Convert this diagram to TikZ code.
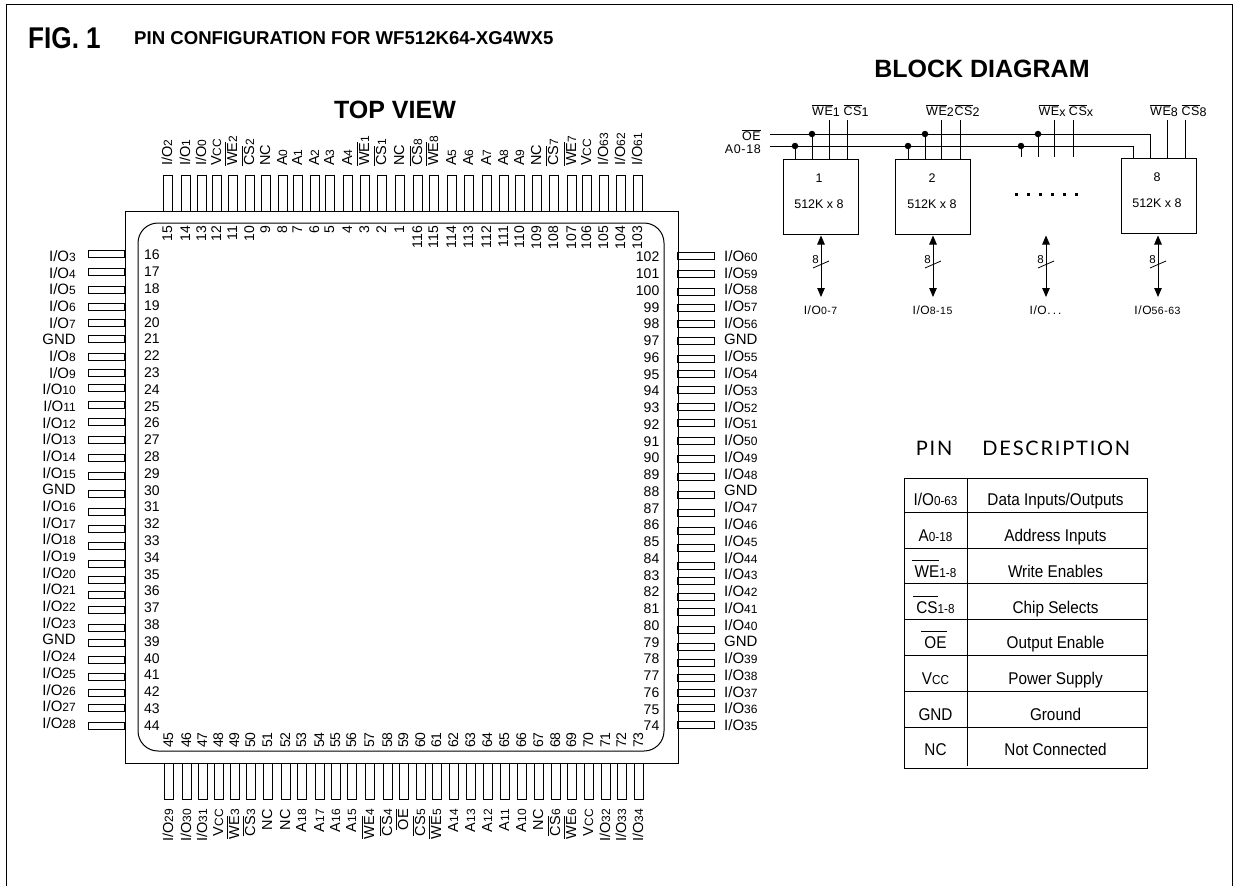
\documentclass[tikz,border=0pt]{standalone}
\usepackage{fontspec}
\setmainfont{Liberation Sans}
\newfontfamily\tabface[FakeStretch=0.9]{Liberation Sans}
\newfontfamily\wideface[LetterSpace=5]{Liberation Sans}
\newfontfamily\headface[LetterSpace=9]{Lato}
\newfontfamily\figface[FakeStretch=0.87]{Liberation Sans}
\usetikzlibrary{arrows.meta}

\newcommand{\pinfont}{\fontsize{15}{15}\selectfont}
\newcommand{\numfont}{\fontsize{14}{14}\selectfont}
\newcommand{\vfont}{\fontsize{14.5}{15}\selectfont}
\newcommand{\blkfont}{\wideface\fontsize{12.5}{13}\selectfont}
\newcommand{\tabfont}{\tabface\fontsize{17}{17}\selectfont}
\newcommand{\sdig}[1]{{\fontsize{12}{12}\selectfont #1}}
\newcommand{\tdig}[1]{{\fontsize{13}{13}\selectfont #1}}
\newcommand{\IO}[1]{I/O\sdig{#1}}
\newcommand{\busIO}[1]{I/O{\fontsize{10.5}{11}\selectfont #1}}
\newcommand{\busdots}{I/O.\,.\,.}
\newcommand{\dataIO}{Data Inputs/Outputs}
\newcommand{\ovl}[1]{$\overline{\hbox{#1}}$}
\newcommand{\tabovl}[1]{\kern-3pt$\overline{\hbox{\vrule height 15.5pt width 0pt \kern3pt #1}}$}
\newcommand{\blksub}[1]{\raisebox{-1.5pt}{#1}}

\tikzset{
    every node/.style={font=\pinfont, inner sep=0pt},
    wire/.style={line width=1pt},
    hpin/.style={draw, line width=1pt, minimum width=36.5pt, minimum height=7pt},
    vpin/.style={draw, line width=1pt, minimum width=8.5pt, minimum height=36pt},
    memblock/.style={draw, line width=1pt, minimum width=75pt, minimum height=75pt},
    joint/.style={circle, fill=black, minimum size=6.5pt},
    blk/.style={font=\blkfont, anchor=base},
    pinnum/.style={font=\numfont},
    title/.style={font=\bfseries\fontsize{25}{25}\selectfont},
    tabtext/.style={font=\tabfont},
    busarrow/.style={line width=1pt, <->, >={Triangle[length=9pt,width=7.5pt]}}
}

\begin{document}
\begin{tikzpicture}[x=1pt, y=-1pt]
    \useasboundingbox (0,0) rectangle (1238,886);

    % frame
    \coordinate (FA) at (6,886);
    \coordinate (FB) at (6,4.5);
    \coordinate (FC) at (1232,4.5);
    \coordinate (FD) at (1232,886);
    \draw[line width=1pt] (FA) -- (FB) -- (FC) -- (FD);

    % titles
    \node (FIG) at (64.5,38) {\figface\bfseries\fontsize{30}{30}\selectfont FIG. 1};
    \node (CFG) at (134,38.5) [anchor=west, font=\bfseries\fontsize{18.6}{19}\selectfont] {PIN CONFIGURATION FOR WF512K64-XG4WX5};
    \node (TOP) at (395,110) [title] {TOP VIEW};
    \node (BLK) at (982,69) [title] {BLOCK DIAGRAM};

    % chip
    \node (CHIP) at (401.5,487) [draw, line width=1pt, minimum width=553pt, minimum height=552pt] {};
    \node (CORE) at (401,487) [draw, line width=1pt, rounded corners=20pt, minimum width=526pt, minimum height=528pt] {};

    %-----

    \foreach \num/\xx/\lab in {15/168/\IO{2}, 14/186/\IO{1}, 13/202/\IO{0}, 12/217/V\sdig{CC},
        11/233/\ovl{WE}\sdig{2}, 10/250/\ovl{CS}\sdig{2}, 9/266/NC, 8/283/A\sdig{0}, 7/298/A\sdig{1},
        6/315/A\sdig{2}, 5/330/A\sdig{3}, 4/348/A\sdig{4}, 3/365/\ovl{WE}\sdig{1}, 2/382/\ovl{CS}\sdig{1},
        1/400/NC, 116/418/\ovl{CS}\sdig{8}, 115/434/\ovl{WE}\sdig{8}, 114/452/A\sdig{5}, 113/469/A\sdig{6},
        112/487/A\sdig{7}, 111/504/A\sdig{8}, 110/520/A\sdig{9}, 109/537/NC, 108/554/\ovl{CS}\sdig{7},
        107/572/\ovl{WE}\sdig{7}, 106/587/V\sdig{CC}, 105/604/\IO{63}, 104/621/\IO{62}, 103/638/\IO{61}} {
        \node (P\num) at (\xx,193) [vpin] {};
        \node (N\num) at (\xx+4,226) [pinnum, rotate=90, anchor=base east] {\num};
        \node (T\num) at (\xx+4,166) [font=\vfont, rotate=90, anchor=base west] {\lab};
    }

    %-----

    \foreach \num/\xx/\lab in {45/169/\IO{29}, 46/187/\IO{30}, 47/203/\IO{31}, 48/219/V\sdig{CC},
        49/235/\ovl{WE}\sdig{3}, 50/251/\ovl{CS}\sdig{3}, 51/268/NC, 52/286/NC, 53/302/A\sdig{18},
        54/320/A\sdig{17}, 55/336/A\sdig{16}, 56/352/A\sdig{15}, 57/370/\ovl{WE}\sdig{4}, 58/388/\ovl{CS}\sdig{4},
        59/404/\ovl{OE}, 60/421/\ovl{CS}\sdig{5}, 61/437/\ovl{WE}\sdig{5}, 62/454/A\sdig{14}, 63/471/A\sdig{13},
        64/488/A\sdig{12}, 65/505/A\sdig{11}, 66/522/A\sdig{10}, 67/539/NC, 68/556/\ovl{CS}\sdig{6},
        69/572/\ovl{WE}\sdig{6}, 70/589/V\sdig{CC}, 71/606/\IO{32}, 72/622/\IO{33}, 73/639/\IO{34}} {
        \node (P\num) at (\xx,781) [vpin] {};
        \node (N\num) at (\xx+4,748) [pinnum, rotate=90, anchor=base west] {\num};
        \node (T\num) at (\xx+4,809) [font=\vfont, rotate=90, anchor=base east] {\lab};
    }

    %-----

    \foreach \num/\yy/\lab [count=\i from 0] in {16/253.7/\IO{3}, 17/272/\IO{4}, 18/290/\IO{5}, 19/307.3/\IO{6},
        20/322.7/\IO{7}, 21/339/GND, 22/357/\IO{8}, 23/373/\IO{9}, 24/388.3/\IO{10}, 25/405.3/\IO{11},
        26/421.7/\IO{12}, 27/439.7/\IO{13}, 28/457.7/\IO{14}, 29/475.7/\IO{15}, 30/493.7/GND, 31/511.7/\IO{16},
        32/529.3/\IO{17}, 33/546.3/\IO{18}, 34/564/\IO{19}, 35/579.7/\IO{20}, 36/595/\IO{21}, 37/610.3/\IO{22},
        38/628.3/\IO{23}, 39/643/GND, 40/659.7/\IO{24}, 41/677.3/\IO{25}, 42/692.7/\IO{26}, 43/708/\IO{27},
        44/726/\IO{28}} {
        \node (P\num) at (106.5,\yy) [hpin] {};
        \node (N\num) at (144,255+\i*16.8) [pinnum, anchor=west] {\num};
        \node (T\num) at (76,256+\i*16.68) [anchor=east] {\lab};
    }

    %-----

    \foreach \num/\yy/\lab [count=\i from 0] in {102/256/\IO{60}, 101/273.7/\IO{59}, 100/291.7/\IO{58}, 99/308.3/\IO{57},
        98/323.7/\IO{56}, 97/340.7/GND, 96/358.7/\IO{55}, 95/374/\IO{54}, 94/389.7/\IO{53}, 93/407/\IO{52},
        92/423.3/\IO{51}, 91/441.3/\IO{50}, 90/459/\IO{49}, 89/477.3/\IO{48}, 88/495.3/GND, 87/513/\IO{47},
        86/530.7/\IO{46}, 85/548/\IO{45}, 84/566/\IO{44}, 83/581.3/\IO{43}, 82/596.7/\IO{42}, 81/612/\IO{41},
        80/630/\IO{40}, 79/647.3/GND, 78/662.7/\IO{39}, 77/678/\IO{38}, 76/693/\IO{37}, 75/708/\IO{36},
        74/725/\IO{35}} {
        \node (P\num) at (696,\yy) [hpin] {};
        \node (N\num) at (659.5,257+\i*16.75) [pinnum, anchor=east] {\num};
        \node (T\num) at (724,256+\i*16.76) [anchor=west] {\lab};
    }

    %----- block diagram

    \node (B1) at (820.5,196.5) [memblock] {};
    \node (B2) at (933,196.5) [memblock] {};
    \node (B8) at (1158.5,195.5) [memblock] {};

    \foreach \bk/\xx/\yy/\name in {1/819/178/1, 2/932/178/2, 8/1157/177/8} {
        \node (NO\bk) at (\xx,\yy) [font=\fontsize{12.5}{13}\selectfont] {\name};
        \node (SZ\bk) at (\xx,\yy+26) [font=\fontsize{12.5}{13}\selectfont] {512K x 8};
    }

    \coordinate (OEa) at (770,134);
    \coordinate (Aa) at (770,146);
    \coordinate (OEb) at (1150,134);
    \coordinate (Ab) at (1133,146);
    \draw[wire] (OEa) -- (OEb) -- (OEb |- B8.north);
    \draw[wire] (Aa) -- (Ab) -- (Ab |- B8.north);
    \node (OE) at (761,140.5) [blk, anchor=base east] {\ovl{OE}};
    \node (A) at (761,153) [blk, anchor=base east] {A0-18};

    \foreach \bk/\xa/\xo/\xw/\xc in {1/795/812/829/847, 2/908/925/941/960} {
        \node (DA\bk) at (\xa,146) [joint] {};
        \node (DO\bk) at (\xo,134) [joint] {};
        \coordinate (WE\bk) at (\xw,120);
        \coordinate (CS\bk) at (\xc,120);
        \draw[wire] (DA\bk) -- (DA\bk |- B\bk.north);
        \draw[wire] (DO\bk) -- (DO\bk |- B\bk.north);
        \draw[wire] (WE\bk) -- (WE\bk |- B\bk.north);
        \draw[wire] (CS\bk) -- (CS\bk |- B\bk.north);
    }

    \node (DAx) at (1021,146) [joint] {};
    \node (DOx) at (1038,134) [joint] {};
    \coordinate (STa) at (1021,157);
    \coordinate (STo) at (1038,157);
    \coordinate (WEx) at (1054,120);
    \coordinate (CSx) at (1073,120);
    \coordinate (STw) at (1054,157);
    \coordinate (STc) at (1073,157);
    \draw[wire] (DAx) -- (STa);
    \draw[wire] (DOx) -- (STo);
    \draw[wire] (WEx) -- (STw);
    \draw[wire] (CSx) -- (STc);

    \coordinate (WE8) at (1167,120);
    \coordinate (CS8) at (1185,120);
    \draw[wire] (WE8) -- (WE8 |- B8.north);
    \draw[wire] (CS8) -- (CS8 |- B8.north);

    \node (LW1) at (826,115) [blk] {\ovl{WE}\blksub{1}};
    \node (LC1) at (856,115) [blk] {\ovl{CS}\blksub{1}};
    \node (LW2) at (940,115) [blk] {\ovl{WE}\blksub{2}};
    \node (LC2) at (967,115) [blk] {\ovl{CS}\blksub{2}};
    \node (LWx) at (1052,115) [blk] {\ovl{WE}\blksub{x}};
    \node (LCx) at (1081,115) [blk] {\ovl{CS}\blksub{x}};
    \node (LW8) at (1164,115) [blk] {\ovl{WE}\blksub{8}};
    \node (LC8) at (1194,115) [blk] {\ovl{CS}\blksub{8}};

    \foreach \i in {0,1,2,3,4,5} {
        \node (DOT\i) at (1016+\i*12,194) [fill=black, minimum size=3pt] {};
    }

    \foreach \bk/\xx/\lab in {1/821/\busIO{0-7}, 2/933/\busIO{8-15}, x/1046/\busdots, 8/1158/\busIO{56-63}} {
        \coordinate (UP\bk) at (\xx,235.5);
        \coordinate (DN\bk) at (\xx,297);
        \coordinate (SLa\bk) at (\xx-8,268);
        \coordinate (SLb\bk) at (\xx+8,261);
        \draw[busarrow] (UP\bk) -- (DN\bk);
        \draw[line width=0.8pt] (SLa\bk) -- (SLb\bk);
        \node (W\bk) at (\xx-5.5,260) [font=\fontsize{11.5}{12}\selectfont] {8};
        \node (IO\bk) at (\xx-0.5,310) [font=\blkfont\fontsize{12}{12}\selectfont] {\lab};
    }

    %----- pin description

    \node (HEAD) at (1023,448) [font=\headface\fontsize{20}{20}\selectfont] {PIN\hspace{30pt}DESCRIPTION};

    \node (TAB) at (1025.5,623) [draw, line width=1pt, minimum width=243pt, minimum height=290pt] {};
    \coordinate (COLa) at (967,478);
    \coordinate (COLb) at (967,766);
    \draw[line width=1pt] (COLa) -- (COLb);
    \foreach \yy in {512,548,583,619,655,691,727} {
        \coordinate (RWa\yy) at (904,\yy);
        \coordinate (RWb\yy) at (1147,\yy);
        \draw[line width=1pt] (RWa\yy) -- (RWb\yy);
    }

    \foreach \yy/\pinname/\desc in {499/{I/O\tdig{0-63}}/\dataIO, 535/A\tdig{0-18}/Address Inputs,
        571/\tabovl{WE}\tdig{1-8}/Write Enables, 607/\tabovl{CS}\tdig{1-8}/Chip Selects,
        642/\tabovl{OE}/Output Enable, 678/V\tdig{CC}/Power Supply, 714/GND/Ground, 749/NC/Not Connected} {
        \node (C\yy) at (935.5,\yy+6) [tabtext, anchor=base] {\pinname};
        \node (D\yy) at (1055.5,\yy+6) [tabtext, anchor=base] {\desc};
    }
\end{tikzpicture}
\end{document}
